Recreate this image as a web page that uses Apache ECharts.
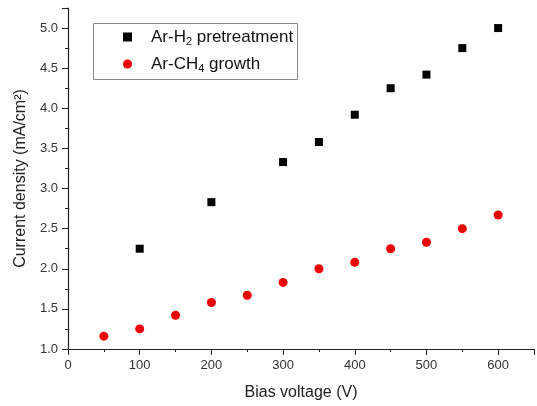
<!DOCTYPE html>
<html><head><meta charset="utf-8">
<script src="https://cdn.jsdelivr.net/npm/echarts@6/dist/echarts.min.js"></script>
<style>html,body{margin:0;padding:0;background:#fff}#c{width:537px;height:406px}</style>
</head><body><div id="c"></div>
<script>
var xPre = [100, 200, 300, 350, 400, 450, 500, 550, 600];
var yPre = [2.25, 2.83, 3.33, 3.58, 3.92, 4.25, 4.42, 4.75, 5.0];
var xGrowth = [50, 100, 150, 200, 250, 300, 350, 400, 450, 500, 550, 600];
var yGrowth = [1.16, 1.25, 1.42, 1.58, 1.67, 1.83, 2.0, 2.08, 2.25, 2.33, 2.5, 2.67];
var seriesNames = ['Ar-H2 pretreatment', 'Ar-CH4 growth'];
var xTitle = 'Bias voltage (V)';
var yTitle = 'Current density (mA/cm\u00B2)';

function pairs(xs, ys) { return xs.map(function (x, i) { return [x, ys[i]]; }); }
var font = 'Liberation Sans, Arial, sans-serif';
var chart = echarts.init(document.getElementById('c'), null, { renderer: 'canvas' });
chart.setOption({
  animation: false,
  backgroundColor: '#fff',
  grid: { left: 68, right: 0, top: 8, bottom: 57 },
  xAxis: {
    type: 'value', min: 0, max: 650, interval: 100,
    axisLine: { show: true, lineStyle: { color: '#222', width: 1.2 } },
    axisTick: { show: true, length: 6, lineStyle: { color: '#222' } },
    minorTick: { show: true, splitNumber: 2, length: 3, lineStyle: { color: '#222' } },
    splitLine: { show: false },
    axisLabel: { color: '#333', fontSize: 13, fontFamily: font, margin: 10,
      formatter: function (v) { return v > 600 ? '' : String(v); } },
    name: xTitle, nameLocation: 'middle', nameGap: 36,
    nameTextStyle: { color: '#222', fontSize: 16, fontFamily: font }
  },
  yAxis: {
    type: 'value', min: 1.0, max: 5.25, interval: 0.5,
    axisLine: { show: true, lineStyle: { color: '#222', width: 1.2 } },
    axisTick: { show: true, length: 6, lineStyle: { color: '#222' } },
    minorTick: { show: true, splitNumber: 2, length: 3, lineStyle: { color: '#222' } },
    splitLine: { show: false },
    axisLabel: { color: '#333', fontSize: 13, fontFamily: font, margin: 10,
      formatter: function (v) { return v > 5.0 ? '' : v.toFixed(1); } },
    name: yTitle, nameLocation: 'middle', nameGap: 39, nameRotate: 90,
    nameTextStyle: { color: '#222', fontSize: 16, fontFamily: font }
  },
  graphic: [{ type: 'rect', shape: { x: 93.5, y: 23.5, width: 204, height: 56 },
    style: { fill: 'none', stroke: '#888', lineWidth: 1 }, z: 10 }],
  legend: {
    orient: 'vertical', left: 118, top: 22, itemWidth: 9, itemHeight: 9, itemGap: 7,
    data: seriesNames,
    formatter: function (n) {
      if (n === seriesNames[0]) return '{a|Ar-H}{s|2}{a| pretreatment}';
      return '{a|Ar-CH}{s|4}{a| growth}';
    },
    textStyle: {
      padding: [0, 0, 0, 14],
      rich: {
        a: { fontSize: 17, fontFamily: font, color: '#111', lineHeight: 20 },
        s: { fontSize: 11, fontFamily: font, color: '#111', padding: [9, 0, 0, 0], lineHeight: 20 }
      }
    }
  },
  series: [
    { name: seriesNames[0], type: 'scatter', symbol: 'rect', symbolSize: 8,
      itemStyle: { color: '#000', opacity: 1 }, data: pairs(xPre, yPre) },
    { name: seriesNames[1], type: 'scatter', symbol: 'circle', symbolSize: 9,
      itemStyle: { color: '#f00000', opacity: 1 }, data: pairs(xGrowth, yGrowth) }
  ]
});
</script></body></html>
